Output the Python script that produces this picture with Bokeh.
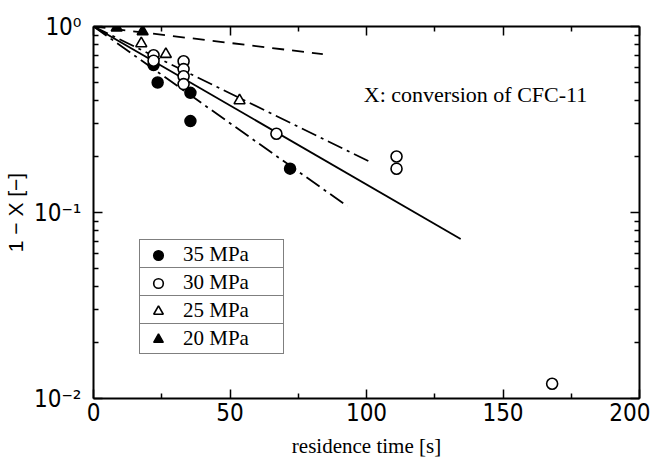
from bokeh.plotting import figure
from bokeh.models import (LinearAxis, LogAxis, FixedTicker, Legend, LegendItem,
                          Label, Range1d)
from bokeh.embed import file_html
from bokeh.resources import INLINE

# ---------------- data ----------------
t_35 = [22, 23.5, 35.5, 35.5, 72]
c_35 = [0.62, 0.50, 0.44, 0.31, 0.172]

t_30 = [22, 22, 33, 33, 33, 33, 67, 111, 111, 168]
c_30 = [0.70, 0.655, 0.65, 0.59, 0.54, 0.49, 0.265, 0.20, 0.172, 0.012]

t_25 = [17.5, 26.5, 53.5]
c_25 = [0.81, 0.71, 0.40]

t_20 = [8.5, 18]
c_20 = [0.985, 0.94]

fit_t_35 = [0, 93]
fit_c_35 = [1.0, 0.108]
fit_t_30 = [0, 134.5]
fit_c_30 = [1.0, 0.072]
fit_t_25 = [0, 102]
fit_c_25 = [1.0, 0.185]
fit_t_20 = [0, 84]
fit_c_20 = [1.0, 0.71]

x_ticks = [0, 50, 100, 150, 200]
x_minor = [25, 75, 125, 175]
y_ticks = [0.01, 0.1, 1.0]
y_tick_labels = ["10\u207b\u00b2", "10\u207b\u00b9", "10\u2070"]
y_minor = [m * 10.0 ** e for e in (-2, -1) for m in range(2, 10)]
legend_labels = ["35 MPa", "30 MPa", "25 MPa", "20 MPa"]
note = "X: conversion of CFC-11"
x_label = "residence time [s]"
y_label = "1 \u2212 X [\u2212]"

SANS = "Liberation Sans Narrow, DejaVu Sans Condensed, Liberation Sans"
SERIF = "Liberation Serif"

p = figure(frame_width=546, frame_height=372,
           x_range=Range1d(0, 200), y_range=Range1d(0.01, 1.0),
           y_axis_type="log", output_backend="svg", toolbar_location=None,
           min_border_left=83, min_border_right=11, min_border_top=26,
           min_border_bottom=64)
p.grid.visible = False
p.outline_line_color = None
p.background_fill_color = "white"
p.border_fill_color = "white"


def style(ax):
    ax.axis_line_width = 2
    ax.axis_line_color = "black"
    ax.major_tick_in = 9
    ax.major_tick_out = 0
    ax.minor_tick_in = 5
    ax.minor_tick_out = 0
    ax.major_tick_line_width = 1.5
    ax.minor_tick_line_width = 1.5
    ax.major_tick_line_color = "black"
    ax.minor_tick_line_color = "black"


xt = FixedTicker(ticks=x_ticks, minor_ticks=x_minor)
yt = FixedTicker(ticks=y_ticks, minor_ticks=y_minor)

xa = p.xaxis[0]
xa.ticker = xt
style(xa)
xa.major_label_text_font = SANS
xa.major_label_text_font_size = "24px"
xa.major_label_text_color = "black"
xa.major_label_standoff = 4
xa.axis_label = x_label
xa.axis_label_text_font = SERIF
xa.axis_label_text_font_size = "21px"
xa.axis_label_text_font_style = "normal"
xa.axis_label_text_color = "black"
xa.axis_label_standoff = 10

ya = p.yaxis[0]
ya.ticker = yt
style(ya)
ya.major_label_overrides = dict(zip(y_ticks, y_tick_labels))
ya.major_label_text_font = SANS
ya.major_label_text_font_size = "24px"
ya.major_label_text_color = "black"
ya.major_label_standoff = 12
ya.axis_label = y_label
ya.axis_label_text_font = "Liberation Sans"
ya.axis_label_text_font_size = "21px"
ya.axis_label_text_font_style = "normal"
ya.axis_label_text_color = "black"
ya.axis_label_standoff = 4

top = LinearAxis(ticker=FixedTicker(ticks=x_ticks, minor_ticks=x_minor),
                 major_label_text_font_size="2px", major_label_text_alpha=0,
                 major_label_standoff=0)
style(top)
p.add_layout(top, "above")
right = LogAxis(ticker=FixedTicker(ticks=y_ticks, minor_ticks=y_minor),
                major_label_text_font_size="2px", major_label_text_alpha=0,
                major_label_standoff=0)
style(right)
p.add_layout(right, "right")

# fitted lines
p.line(fit_t_20, fit_c_20, line_color="black", line_width=1.8, line_dash="12 8")
p.line(fit_t_25, fit_c_25, line_color="black", line_width=1.8, line_dash="16 5 3 5")
p.line(fit_t_30, fit_c_30, line_color="black", line_width=1.8)
p.line(fit_t_35, fit_c_35, line_color="black", line_width=1.8, line_dash="16 5 3 5")

# data points
r35 = p.scatter(t_35, c_35, marker="circle", size=11, fill_color="black",
                line_color="black", line_width=1.5)
r30 = p.scatter(t_30, c_30, marker="circle", size=11, fill_color="white",
                line_color="black", line_width=1.6)
r25 = p.scatter(t_25, c_25, marker="triangle", size=11, fill_color="white",
                line_color="black", line_width=1.6)
r20 = p.scatter(t_20, c_20, marker="triangle", size=11, fill_color="black",
                line_color="black", line_width=1.5)

p.add_layout(Label(x=99, y=0.43, text=note, text_font=SERIF,
                   text_font_size="22px", text_baseline="middle",
                   text_color="black"))

# legend: four stacked boxes that form one table
for i, (lab, r) in enumerate(zip(legend_labels, [r35, r30, r25, r20])):
    leg = Legend(items=[LegendItem(label=lab, renderers=[r])],
                 location=(46, 44 + 28 * (3 - i)),
                 border_line_color="black", border_line_width=1.5,
                 background_fill_color="white", background_fill_alpha=1.0,
                 padding=2, spacing=0, margin=0,
                 glyph_width=32, glyph_height=24, label_height=22,
                 label_standoff=9, label_width=98,
                 label_text_font=SERIF, label_text_font_size="21px",
                 label_text_color="black")
    p.add_layout(leg)

open("out.html", "w").write(file_html(p, INLINE))
